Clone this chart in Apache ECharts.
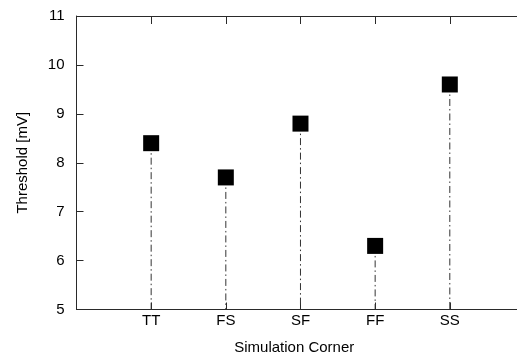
<!DOCTYPE html>
<html>
<head>
<meta charset="utf-8">
<script src="https://cdn.jsdelivr.net/npm/echarts@6/dist/echarts.min.js"></script>
<style>
  html, body { margin: 0; padding: 0; background: #fff; }
  #chart { width: 517px; height: 362px; }
</style>
</head>
<body>
<div id="chart"></div>
<script>
// Simulation corners and the measured threshold at each one
const corners = ['TT', 'FS', 'SF', 'FF', 'SS'];
const thresholds = [8.4, 7.7, 8.8, 6.3, 9.6];
const yTicks = [5, 6, 7, 8, 9, 10, 11];

const font = 'Liberation Sans, Arial, sans-serif';
const axisColor = '#2a2a2a';
const xMax = 5.9;

// corner i sits at x = i + 1 on a numeric axis running from 0
const points = corners.map((c, i) => [i + 1, thresholds[i]]);

// dash-dot stem from the bottom of the value range up to a point
function renderStem(params, api) {
  const x = api.value(0);
  const top = api.coord([x, api.value(1)]);
  const bottom = api.coord([x, yTicks[0]]);
  return {
    type: 'line',
    shape: { x1: top[0], y1: top[1], x2: bottom[0], y2: bottom[1] },
    style: { stroke: '#333', lineWidth: 1, lineDash: [7, 3, 1.5, 3] }
  };
}

const chart = echarts.init(document.getElementById('chart'));
chart.setOption({
  animation: false,
  grid: { left: 76.5, right: 0, top: 16, bottom: 52.5 },
  xAxis: [
    {
      type: 'value', position: 'bottom',
      min: 0, max: xMax, interval: 1,
      splitLine: { show: false },
      axisLine: { lineStyle: { color: axisColor, width: 1 } },
      axisTick: { inside: true, length: 7, lineStyle: { color: axisColor } },
      axisLabel: {
        margin: 4, color: '#000', fontFamily: font, fontSize: 15,
        showMaxLabel: false,
        formatter: v => corners[v - 1] || ''
      },
      name: 'Simulation Corner', nameLocation: 'middle', nameGap: 31,
      nameTextStyle: { color: '#000', fontFamily: font, fontSize: 15, padding: [0, 5, 0, 0] }
    },
    {
      type: 'value', position: 'top',
      min: 0, max: xMax, interval: 1,
      splitLine: { show: false },
      axisLine: { lineStyle: { color: axisColor, width: 1 } },
      axisTick: { inside: true, length: 8, lineStyle: { color: axisColor } },
      axisLabel: { show: false }
    }
  ],
  yAxis: {
    type: 'value', min: yTicks[0], max: yTicks[yTicks.length - 1], interval: 1,
    splitLine: { show: false },
    axisLine: { show: true, lineStyle: { color: axisColor, width: 1 } },
    axisTick: { inside: true, length: 7, lineStyle: { color: axisColor } },
    axisLabel: { margin: 12, color: '#000', fontFamily: font, fontSize: 15 },
    name: 'Threshold [mV]', nameLocation: 'middle', nameGap: 46,
    nameTextStyle: { color: '#000', fontFamily: font, fontSize: 15 }
  },
  series: [
    {
      type: 'custom',
      data: points,
      renderItem: renderStem,
      silent: true,
      z: 1
    },
    {
      type: 'scatter',
      data: points,
      symbol: 'rect',
      symbolSize: 16,
      itemStyle: { color: '#000', opacity: 1 },
      z: 10
    }
  ]
});
</script>
</body>
</html>
